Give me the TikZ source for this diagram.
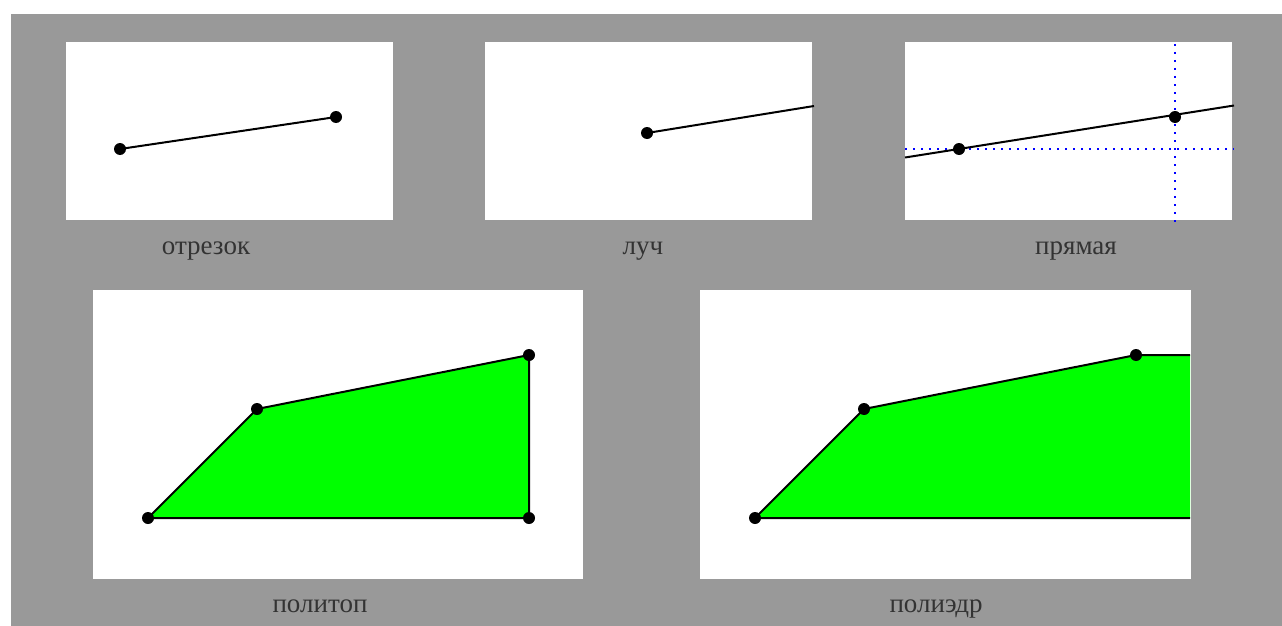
\documentclass[tikz,border=0pt]{standalone}
\usepackage{fontspec}
\setmainfont{Liberation Serif}
\usetikzlibrary{positioning}

\begin{document}
\begin{tikzpicture}[x=1pt, y=-1pt, every node/.style={font=\fontsize{27}{31}\selectfont}]
  \tikzset{panel/.style={fill=white, draw=none}, lbl/.style={anchor=base, text=black!80, inner sep=0pt}, edge/.style={line width=2pt, black}, guide/.style={line width=2.2pt, blue, dash pattern=on 2.2pt off 5.8pt}, body/.style={fill=green, draw=black, line width=2pt, line join=miter}, pt/.style={circle, fill=black, inner sep=0pt, minimum size=12pt}}
  \useasboundingbox (0,0) rectangle (1282,626);
  \fill[black!40] (11,14) rectangle (1282,626);
  % panels
  \fill[panel] (66,42) rectangle (393,220);
  \fill[panel] (485,42) rectangle (812,220);
  \fill[panel] (905,42) rectangle (1232,220);
  \fill[panel] (93,290) rectangle (583,579);
  \fill[panel] (700,290) rectangle (1191,579);
  % segment
  \coordinate (s1) at (120,149);
  \coordinate (s2) at (336,117);
  \draw[edge] (s1) -- (s2);
  \node[pt] at (s1) {};
  \node[pt] at (s2) {};
  % ray
  \coordinate (r1) at (647,133);
  \coordinate (r2) at (814,106);
  \draw[edge] (r1) -- (r2);
  \node[pt] at (r1) {};
  % line
  \coordinate (l0) at (905,157.5);
  \coordinate (l3) at (1234,105.5);
  \coordinate (l1) at (959,149);
  \coordinate (l2) at (1175,117);
  \coordinate (hx) at (905,149);
  \coordinate (hy) at (1234,149);
  \coordinate (vx) at (1175,44);
  \coordinate (vy) at (1175,223);
  \draw[guide] (hx) -- (hy);
  \draw[guide] (vx) -- (vy);
  \draw[edge] (l0) -- (l3);
  \node[pt] at (l1) {};
  \node[pt] at (l2) {};
  % polytope
  \coordinate (p1) at (148,518);
  \coordinate (p2) at (257,409);
  \coordinate (p3) at (529,355);
  \coordinate (p4) at (529,518);
  \draw[body] (p1) -- (p2) -- (p3) -- (p4) -- cycle;
  \foreach \p in {p1,p2,p3,p4} \node[pt] at (\p) {};
  % polyhedron
  \coordinate (q1) at (755,518);
  \coordinate (q2) at (864,409);
  \coordinate (q3) at (1136,355);
  \coordinate (q4) at (1190,355);
  \coordinate (q5) at (1190,518);
  \fill[green] (q1) -- (q2) -- (q3) -- (q4) -- (q5) -- cycle;
  \draw[edge] (q5) -- (q1) -- (q2) -- (q3) -- (q4);
  \foreach \p in {q1,q2,q3} \node[pt] at (\p) {};
  % captions
  \node[lbl] (seglbl) at (206,254) {отрезок};
  \node[lbl] (raylbl) at (643,254) {луч};
  \node[lbl] (linelbl) at (1076,254) {прямая};
  \node[lbl] (ptlbl) at (320,612) {политоп};
  \node[lbl] (phlbl) at (936,612) {полиэдр};
\end{tikzpicture}
\end{document}
